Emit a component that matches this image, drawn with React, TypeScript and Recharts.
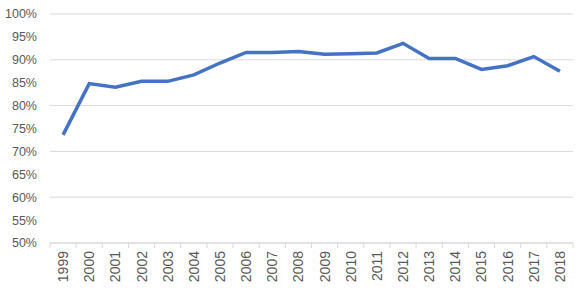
import { LineChart, Line, XAxis, YAxis, CartesianGrid } from "recharts";

const years = [
  "1999", "2000", "2001", "2002", "2003", "2004", "2005", "2006", "2007", "2008",
  "2009", "2010", "2011", "2012", "2013", "2014", "2015", "2016", "2017", "2018",
];
const rates = [
  73.6, 84.8, 84.0, 85.3, 85.3, 86.7, 89.3, 91.6, 91.6, 91.8,
  91.2, 91.3, 91.5, 93.6, 90.3, 90.3, 87.9, 88.7, 90.7, 87.5,
];
const yTicks = [50, 55, 60, 65, 70, 75, 80, 85, 90, 95, 100];

const data = years.map((year, i) => ({ year, rate: rates[i] }));

const FONT = "'Liberation Sans', Arial, sans-serif";
const TEXT = "#595959";
const AXIS = "#d9d9d9";

// year labels rotated, plus Excel-style tick marks between categories
function YearTick(props: any) {
  const { x, y, payload, index, visibleTicksCount } = props;
  const half = payload.offset || 0;
  const top = y - 8;
  return (
    <g>
      <line x1={x - half} y1={top} x2={x - half} y2={top + 5} stroke={AXIS} />
      {index === visibleTicksCount - 1 && (
        <line x1={x + half} y1={top} x2={x + half} y2={top + 5} stroke={AXIS} />
      )}
      <text
        x={x}
        y={top + 8}
        transform={`rotate(-90, ${x}, ${top + 8})`}
        textAnchor="end"
        dominantBaseline="central"
        fill={TEXT}
        fontSize={14}
        fontFamily={FONT}
      >
        {payload.value}
      </text>
    </g>
  );
}

export default function App() {
  return (
    <div style={{ position: "fixed", left: 0, top: 0, background: "#fff" }}>
      <LineChart
        width={583}
        height={293}
        data={data}
        margin={{ top: 14, right: 10, bottom: 0, left: 0 }}
      >
        <CartesianGrid vertical={false} stroke={AXIS} strokeWidth={1} />
        <XAxis
          dataKey="year"
          scale="band"
          interval={0}
          height={50}
          axisLine={{ stroke: AXIS }}
          tickLine={false}
          tick={<YearTick />}
        />
        <YAxis
          domain={[50, 100]}
          ticks={yTicks}
          width={50}
          axisLine={false}
          tickLine={false}
          tickSize={6}
          tickMargin={7}
          tickFormatter={(v: number) => `${v}%`}
          tick={{ fill: TEXT, fontSize: 12.5, fontFamily: FONT }}
        />
        <Line
          type="linear"
          dataKey="rate"
          stroke="#4472C4"
          strokeWidth={3.5}
          dot={false}
          isAnimationActive={false}
        />
      </LineChart>
    </div>
  );
}
